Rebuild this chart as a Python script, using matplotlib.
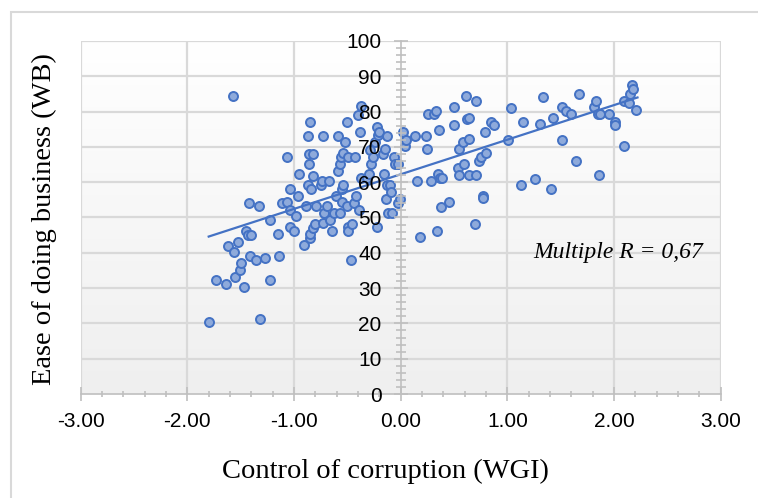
import numpy as np
import matplotlib
matplotlib.use("Agg")
import matplotlib.pyplot as plt
from matplotlib.colors import LinearSegmentedColormap
from matplotlib.patches import Rectangle
from matplotlib.ticker import MultipleLocator, FormatStrFormatter

plt.rcParams['axes.unicode_minus'] = False

# Control of corruption (WGI) vs Ease of doing business (WB)
wgi = [-1.57, -1.80, -1.32, -1.73, -1.64, -1.47, -1.23, -1.55, -1.51, -1.50,
       -1.62, -1.56, -1.53, -1.45, -1.43, -1.40, -1.41, -1.36, -1.27, -1.14,
       -1.42, -1.33, -1.23, -1.15, -1.11, -1.07, -1.04, -1.04, -1.00, -0.98,
       -1.04, -0.96, -1.07, -0.95, -0.91, -0.89, -0.85, -0.85, -0.87, -0.84,
       -0.82, -0.86, -0.86, -0.82, -0.87, -0.85, -0.82, -0.80, -0.79, -0.75,
       -0.74, -0.73, -0.73, -0.72, -0.69, -0.67, -0.66, -0.64, -0.63, -0.61,
       -0.59, -0.59, -0.57, -0.57, -0.56, -0.55, -0.55, -0.54, -0.54, -0.52,
       -0.50, -0.50, -0.49, -0.49, -0.49, -0.47, -0.46, -0.44, -0.43, -0.42,
       -0.40, -0.39, -0.38, -0.37, -0.37, -0.32, -0.30, -0.29, -0.28, -0.26,
       -0.24, -0.22, -0.22, -0.21, -0.20, -0.17, -0.16, -0.15, -0.14, -0.13,
       -0.13, -0.12, -0.10, -0.09, -0.08, -0.06, -0.05, -0.03, -0.01, -0.03,
       0.02, 0.04, 0.05, 0.13, 0.15, 0.18, 0.24, 0.25, 0.26, 0.28,
       0.31, 0.33, 0.34, 0.35, 0.36, 0.37, 0.39, 0.38, 0.45, 0.50,
       0.50, 0.54, 0.55, 0.55, 0.58, 0.59, 0.61, 0.62, 0.64, 0.64,
       0.64, 0.70, 0.71, 0.71, 0.73, 0.75, 0.77, 0.77, 0.79, 0.80,
       0.85, 0.87, 1.01, 1.03, 1.13, 1.15, 1.26, 1.31, 1.33, 1.41,
       1.43, 1.51, 1.51, 1.55, 1.60, 1.64, 1.67, 1.81, 1.83, 1.85,
       1.86, 1.87, 1.95, 2.01, 2.01, 2.09, 2.09, 2.14, 2.15, 2.17,
       2.18, 2.21]

ease = [84.3, 20.5, 21.2, 32.2, 31.3, 30.2, 32.2, 33.2, 35.2, 37.2,
        41.8, 40.1, 43.1, 46.3, 45.1, 45.1, 39.0, 38.1, 38.6, 39.2,
        54.1, 53.2, 49.2, 45.2, 54.2, 54.3, 52.2, 47.3, 46.1, 50.4,
        58.1, 56.2, 67.1, 62.2, 42.1, 53.2, 44.2, 45.2, 59.1, 58.1,
        61.7, 65.2, 68.1, 68.1, 73.2, 77.1, 47.0, 48.3, 53.2, 59.1,
        60.2, 73.2, 48.4, 51.2, 53.2, 60.2, 49.2, 46.1, 51.2, 56.2,
        63.3, 73.2, 51.2, 65.2, 67.0, 58.1, 54.3, 59.1, 68.3, 71.3,
        77.1, 53.2, 67.1, 47.3, 46.1, 38.1, 48.3, 54.2, 67.1, 56.2,
        79.0, 52.2, 74.1, 81.5, 61.2, 61.2, 62.2, 69.2, 65.2, 67.1,
        71.3, 75.6, 47.3, 73.3, 74.1, 68.1, 62.4, 69.4, 55.3, 73.0,
        59.1, 51.2, 59.2, 57.2, 51.2, 67.1, 65.2, 54.1, 55.3, 65.2,
        74.1, 70.2, 72.0, 73.2, 60.2, 44.5, 73.2, 69.3, 79.2, 60.2,
        79.2, 80.3, 46.1, 62.2, 74.9, 61.2, 61.1, 52.9, 54.3, 81.2,
        76.1, 64.0, 62.1, 69.3, 71.3, 65.2, 84.3, 77.9, 78.2, 72.2,
        62.1, 48.2, 83.1, 62.1, 66.0, 67.1, 56.2, 55.6, 74.1, 68.2,
        77.0, 76.1, 72.0, 81.1, 59.1, 77.0, 61.0, 76.5, 84.1, 58.1,
        78.2, 81.2, 72.0, 80.3, 79.2, 66.1, 85.0, 81.2, 83.1, 79.2,
        61.9, 79.2, 79.2, 77.1, 76.1, 70.2, 83.1, 82.4, 85.0, 87.4,
        86.4, 80.5]

# linear trend line end points
trend_x = [-1.80, 2.22]
trend_y = [44.6, 84.0]

blue = '#4472c4'
grid = '#d9d9d9'

fig = plt.figure(figsize=(7.58, 4.98), dpi=100)
ax = fig.add_axes([80.7 / 758, 1 - 394 / 498, 640 / 758, 353 / 498])

ax.set_xlim(-3, 3)
ax.set_ylim(0, 100)

# plot area gradient (white at top, light grey at bottom)
cmap = LinearSegmentedColormap.from_list('bg', ['#efefef', '#ffffff'])
ax.imshow(np.linspace(0, 1, 256).reshape(-1, 1), cmap=cmap, aspect='auto',
          extent=[-3, 3, 0, 100], origin='lower', zorder=0)

for yv in range(10, 101, 10):
    ax.axhline(yv, color=grid, lw=1.6, zorder=0.5)
for xv in [-3, -2, -1, 1, 2, 3]:
    ax.axvline(xv, color=grid, lw=1.6, zorder=0.5)

ax.scatter(wgi, ease, s=42, facecolor='#8eaadb', edgecolor=blue,
           linewidth=1.4, zorder=2)
ax.plot(trend_x, trend_y, color=blue, lw=1.6, zorder=2.2)

ax.text(2.04, 40.2, 'Multiple R = 0,67', ha='center', va='center',
        fontsize=17, style='italic', family='Liberation Serif', zorder=3)

# axes crossing at zero
ax.set_axisbelow(False)
ax.spines['left'].set_position(('data', 0))
ax.spines['bottom'].set_position(('data', 0))
ax.spines['right'].set_visible(False)
ax.spines['top'].set_visible(False)
for s in ['left', 'bottom']:
    ax.spines[s].set_color('#bfbfbf')
    ax.spines[s].set_linewidth(1.2)
    ax.spines[s].set_zorder(2.5)

ax.xaxis.set_major_locator(MultipleLocator(1))
ax.xaxis.set_minor_locator(MultipleLocator(0.2))
ax.yaxis.set_major_locator(MultipleLocator(10))
ax.yaxis.set_minor_locator(MultipleLocator(2))
ax.xaxis.set_major_formatter(FormatStrFormatter('%.2f'))

ax.tick_params(axis='both', which='both', direction='inout', color='#bfbfbf',
               width=1.2)
ax.tick_params(axis='x', which='major', length=9.4, pad=8.5, labelsize=15)
ax.tick_params(axis='x', which='minor', length=5)
ax.tick_params(axis='y', which='major', length=9.4, pad=9, labelsize=15)
ax.tick_params(axis='y', which='minor', length=7)
for lab in ax.get_xticklabels() + ax.get_yticklabels():
    lab.set_family('Liberation Sans')

fig.text(44 / 758, 1 - 219 / 498, 'Ease of doing business (WB)', rotation=90,
         ha='center', va='center', fontsize=20.5, family='Liberation Serif')
fig.text(385 / 758, 1 - 471 / 498, 'Control of corruption (WGI)',
         ha='center', va='center', fontsize=20.5, family='Liberation Serif')

# chart border
fig.add_artist(Rectangle((10.5 / 758, -0.1), 1.2, 1.1 - 12 / 498,
                         transform=fig.transFigure, fill=False,
                         edgecolor=grid, lw=1.5))

fig.savefig('out.png', dpi=100)
